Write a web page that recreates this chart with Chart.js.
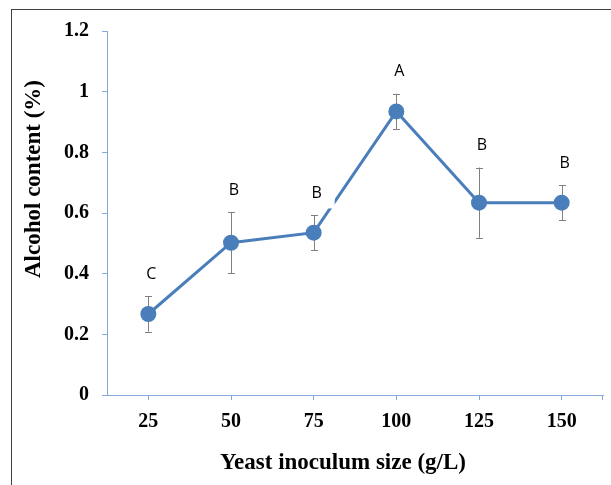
<!DOCTYPE html>
<html>
<head>
<meta charset="utf-8">
<script src="https://cdn.jsdelivr.net/npm/chart.js@4"></script>
<style>
  html, body { margin: 0; padding: 0; background: #fff; overflow: hidden; }
  #wrap { position: relative; width: 611px; height: 485px; overflow: hidden; }
  #frame { position: absolute; left: 11px; top: 9px; width: 700px; height: 600px; border: 1px solid #404040; }
  canvas { position: absolute; left: 0; top: 0; }
</style>
</head>
<body>
<div id="wrap">
  <div id="frame"></div>
  <canvas id="alcoholChart" width="611" height="485"></canvas>
</div>
<script>
// inoculum sizes (g/L)
const doses = ["25", "50", "75", "100", "125", "150"];
// mean alcohol content (%)
const alcohol = [0.267, 0.502, 0.535, 0.935, 0.634, 0.634];
// standard deviation
const errors = [0.058, 0.1, 0.057, 0.058, 0.116, 0.058];
// significance groups
const groups = ["C", "B", "B", "A", "B", "B"];

const axisColor = "#86A9DA";
const lineColor = "#4A7EBB";
const serif = "'Liberation Serif', 'Times New Roman', serif";

// error bars under the points
const errorBars = {
    id: "errorBars",
    beforeDatasetsDraw(chart) {
        const ctx = chart.ctx;
        const y = chart.scales.y;
        const meta = chart.getDatasetMeta(0);
        ctx.save();
        ctx.strokeStyle = "#808080";
        ctx.lineWidth = 1;
        meta.data.forEach((pt, i) => {
            const top = y.getPixelForValue(alcohol[i] + errors[i]);
            const bot = y.getPixelForValue(alcohol[i] - errors[i]);
            const x = Math.round(pt.x) + 0.5;
            ctx.beginPath();
            ctx.moveTo(x, top); ctx.lineTo(x, bot);
            ctx.moveTo(x - 3.5, Math.round(top) + 0.5); ctx.lineTo(x + 3.5, Math.round(top) + 0.5);
            ctx.moveTo(x - 3.5, Math.round(bot) + 0.5); ctx.lineTo(x + 3.5, Math.round(bot) + 0.5);
            ctx.stroke();
        });
        ctx.restore();
    },
    afterDatasetsDraw(chart) {
        // letters above the error bars, on white boxes
        const ctx = chart.ctx;
        const y = chart.scales.y;
        const meta = chart.getDatasetMeta(0);
        ctx.save();
        ctx.font = "16px 'Open Sans', sans-serif";
        ctx.textAlign = "center";
        ctx.textBaseline = "middle";
        meta.data.forEach((pt, i) => {
            const cx = pt.x + 3;
            const cy = y.getPixelForValue(alcohol[i] + errors[i]) - 22;
            ctx.fillStyle = "#fff";
            ctx.fillRect(cx - 18, cy - 15, 36, 30);
            ctx.fillStyle = "#000";
            ctx.fillText(groups[i], cx, cy);
        });
        ctx.restore();
    },
    afterDraw(chart) {
        const ctx = chart.ctx;
        const a = chart.chartArea;
        ctx.save();
        // closing tick at the end of the x axis
        ctx.strokeStyle = axisColor;
        ctx.lineWidth = 1;
        ctx.beginPath();
        ctx.moveTo(Math.round(a.right) - 0.5, a.bottom);
        ctx.lineTo(Math.round(a.right) - 0.5, a.bottom + 5);
        ctx.stroke();
        // axis titles
        ctx.fillStyle = "#000";
        ctx.font = "bold 23px " + serif;
        ctx.textAlign = "center";
        ctx.textBaseline = "middle";
        ctx.fillText("Yeast inoculum size (g/L)", 343, 463);
        ctx.translate(34, 179);
        ctx.rotate(-Math.PI / 2);
        ctx.fillText("Alcohol content (%)", 0, 0);
        ctx.restore();
    }
};

const ctx = document.getElementById("alcoholChart").getContext("2d");
new Chart(ctx, {
    type: "line",
    data: {
        labels: doses,
        datasets: [{
            data: alcohol,
            borderColor: lineColor,
            backgroundColor: lineColor,
            borderWidth: 3,
            pointRadius: 8,
            pointHoverRadius: 8,
            pointBackgroundColor: lineColor,
            pointBorderColor: lineColor,
            pointBorderWidth: 0,
            tension: 0
        }]
    },
    options: {
        responsive: false,
        animation: false,
        events: [],
        layout: { padding: { top: 31, right: 7, left: 0, bottom: 0 } },
        plugins: {
            legend: { display: false },
            tooltip: { enabled: false }
        },
        scales: {
            x: {
                offset: true,
                grid: { drawOnChartArea: false, tickLength: 5, color: axisColor, offset: false },
                border: { color: axisColor },
                ticks: {
                    color: "#000",
                    padding: 10,
                    font: { family: serif, size: 20, weight: "bold" }
                },
                afterFit(scale) { scale.height = 90; }
            },
            y: {
                min: 0,
                max: 1.2,
                grid: { drawOnChartArea: false, tickLength: 5, color: axisColor },
                border: { color: axisColor },
                ticks: {
                    stepSize: 0.2,
                    color: "#000",
                    padding: 13,
                    font: { family: serif, size: 20, weight: "bold" },
                    callback: v => String(Number(v.toFixed(1)))
                },
                afterFit(scale) { scale.width = 107; }
            }
        }
    },
    plugins: [errorBars]
});
</script>
</body>
</html>
